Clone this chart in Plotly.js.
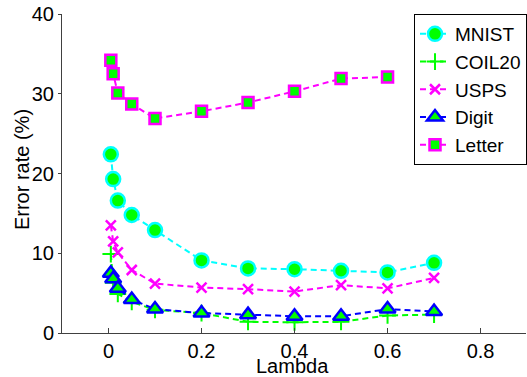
<!DOCTYPE html>
<html>
<head>
<meta charset="utf-8">
<script src="https://cdn.plot.ly/plotly-3.0.1.min.js"></script>
<style>html,body{margin:0;padding:0;background:#fff;}#chart{width:527px;height:377px;}</style>
</head>
<body>
<div id="chart"></div>
<script>
var lambda = [0.005, 0.01, 0.02, 0.05, 0.1, 0.2, 0.3, 0.4, 0.5, 0.6, 0.7];
var lambdaLetter = [0.005, 0.01, 0.02, 0.05, 0.1, 0.2, 0.3, 0.4, 0.5, 0.6];
var mnist = [22.4, 19.3, 16.6, 14.8, 12.9, 9.1, 8.1, 8.0, 7.8, 7.6, 8.8];
var coil20 = [9.9, 6.3, 4.9, 3.9, 2.9, 2.5, 1.4, 1.35, 1.4, 2.2, 2.3];
var usps = [13.5, 11.5, 10.1, 7.9, 6.2, 5.7, 5.5, 5.2, 6.0, 5.6, 6.9];
var digit = [7.5, 6.8, 5.6, 4.2, 3.0, 2.5, 2.3, 2.1, 2.1, 3.0, 2.7];
var letter = [34.2, 32.5, 30.1, 28.7, 26.9, 27.8, 28.9, 30.3, 31.9, 32.1];
var xTicks = [0, 0.2, 0.4, 0.6, 0.8];
var yTicks = [0, 10, 20, 30, 40];

var dash = '6px,4px';
var traces = [
  {x: lambda, y: mnist, name: 'MNIST', mode: 'lines+markers',
   line: {color: '#00ffff', width: 2, dash: dash},
   marker: {symbol: 'circle', size: 14, color: '#00ff00', line: {color: '#00ffff', width: 2.5}}},
  {x: lambda, y: coil20, name: 'COIL20', mode: 'lines+markers',
   line: {color: '#00ff00', width: 2, dash: dash},
   marker: {symbol: 'cross-thin-open', size: 12, color: '#00ff00', line: {color: '#00ff00', width: 2}}},
  {x: lambda, y: usps, name: 'USPS', mode: 'lines+markers',
   line: {color: '#ff00ff', width: 2, dash: dash},
   marker: {symbol: 'x-thin-open', size: 10, color: '#ff00ff', line: {color: '#ff00ff', width: 2.5}}},
  {x: lambda, y: digit, name: 'Digit', mode: 'lines+markers',
   line: {color: '#0000ff', width: 2, dash: dash},
   marker: {symbol: 'triangle-up', size: 14, color: '#00ff00', line: {color: '#0000ff', width: 2.5}}},
  {x: lambdaLetter, y: letter, name: 'Letter', mode: 'lines+markers',
   line: {color: '#ff00ff', width: 2, dash: dash},
   marker: {symbol: 'square', size: 11, color: '#00ff00', line: {color: '#ff00ff', width: 2.5}}}
];

var fam = '"Liberation Sans", Arial, Helvetica, sans-serif';
var font = {family: fam, size: 20, color: '#000'};
var layout = {
  width: 527, height: 377,
  margin: {l: 62, r: 0, t: 14, b: 44, pad: 0},
  paper_bgcolor: '#fff', plot_bgcolor: '#fff',
  font: font,
  showlegend: true,
  legend: {x: (415 - 62) / 465, y: 1, xanchor: 'left', yanchor: 'top',
           bordercolor: '#000', borderwidth: 1, bgcolor: '#fff',
           font: {family: fam, size: 19, color: '#000'}, tracegroupgap: 0},
  xaxis: {range: [-0.1, 0.8977], tickvals: xTicks, ticktext: xTicks.map(String),
          showgrid: false, zeroline: false, showline: true, linecolor: '#404040', linewidth: 1,
          ticks: 'inside', ticklen: 5, tickcolor: '#404040', ticklabelstandoff: 0,
          automargin: false},
  yaxis: {range: [0, 40], tickvals: yTicks, ticktext: yTicks.map(String),
          showgrid: false, zeroline: false, showline: true, linecolor: '#404040', linewidth: 1,
          ticks: 'outside', ticklen: 3, tickcolor: '#404040',
          automargin: false},
  annotations: [
    {text: 'Lambda', xref: 'paper', yref: 'paper', x: (293 - 62) / 465, y: (333 - 366) / 319,
     xanchor: 'center', yanchor: 'middle', showarrow: false, font: font},
    {text: 'Error rate (%)', xref: 'paper', yref: 'paper', x: (22 - 62) / 465, y: (333 - 170) / 319,
     xanchor: 'center', yanchor: 'middle', textangle: -90, showarrow: false, font: font}
  ]
};
Plotly.newPlot('chart', traces, layout, {displayModeBar: false, staticPlot: true});
</script>
</body>
</html>
